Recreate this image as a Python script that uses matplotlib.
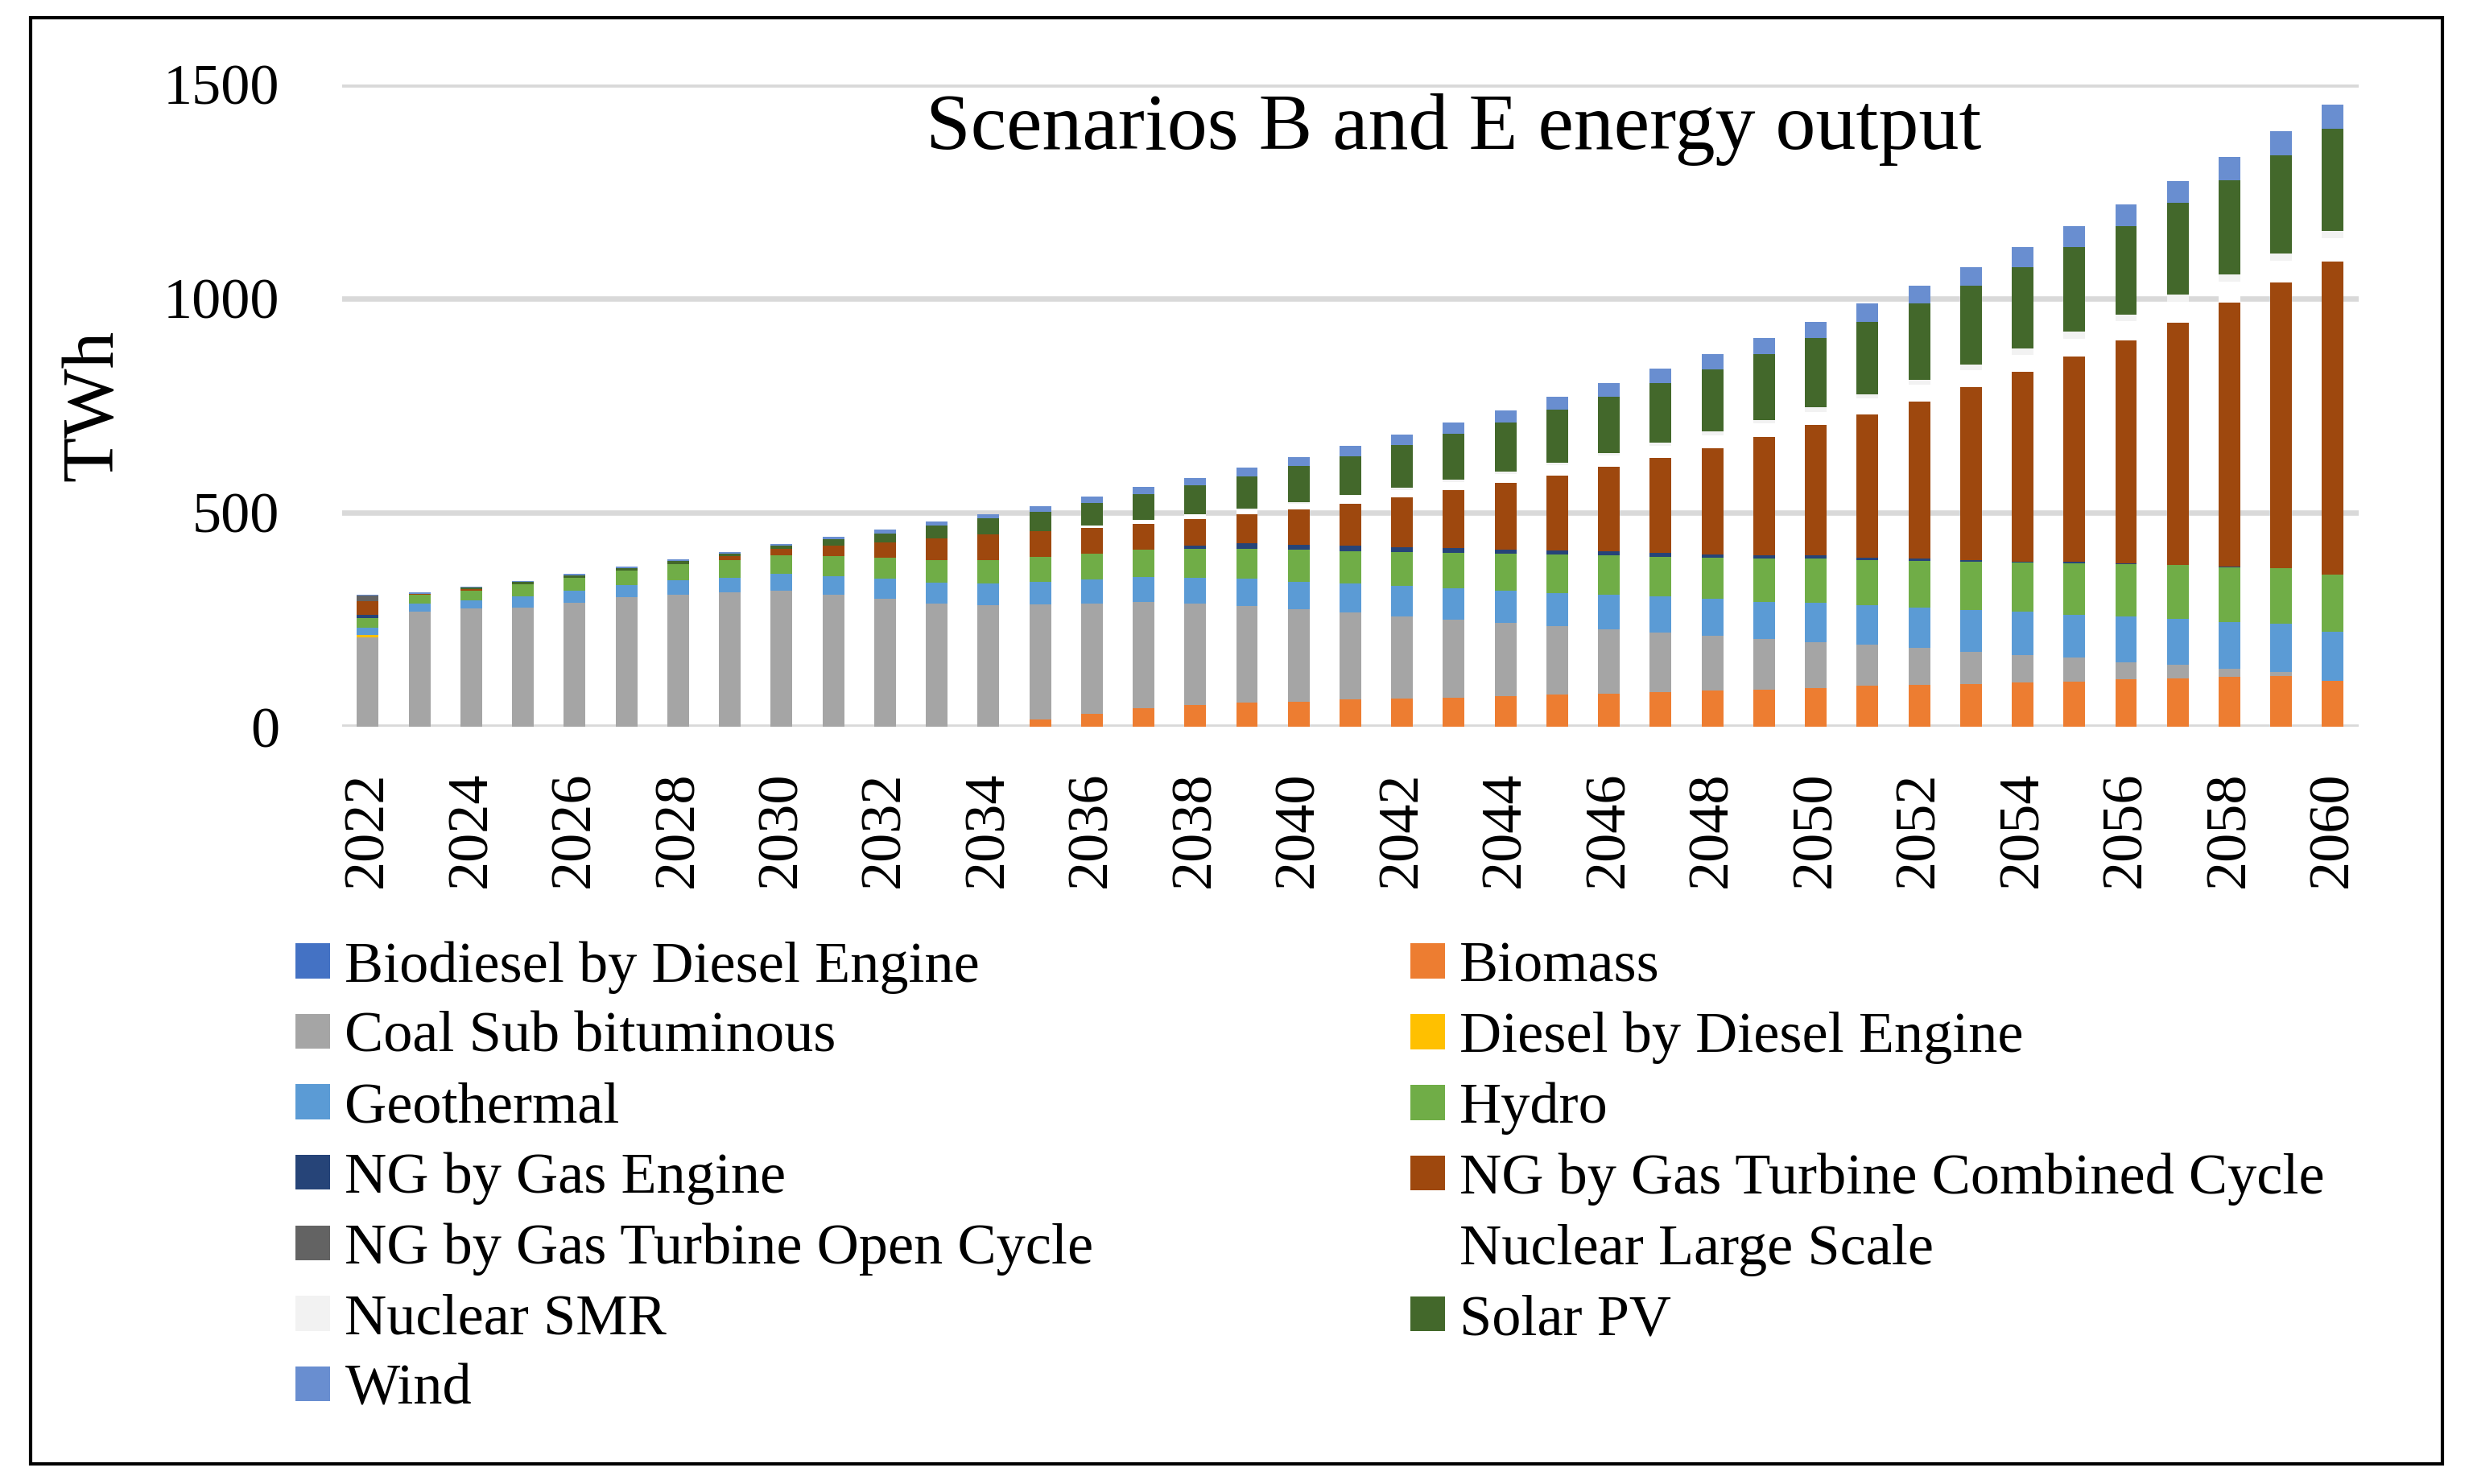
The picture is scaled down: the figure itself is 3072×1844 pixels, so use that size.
import numpy as np
import matplotlib.pyplot as plt
from matplotlib.patches import Rectangle

years = list(range(2022, 2061))

biodiesel = [0] * 39
biomass = [0, 0, 0, 0, 0, 0, 0, 0, 0, 0, 0, 0, 0, 16, 30, 43, 50, 56, 59, 63,
           65, 68, 72, 76, 78, 81, 84, 86, 91, 95, 97, 100, 104, 106, 110, 112, 116, 118, 107]
coal = [208, 268, 276, 278, 289, 302, 309, 313, 317, 308, 298, 287, 283, 269, 258, 248, 238, 226, 216, 204,
        193, 182, 170, 159, 149, 139, 128, 119, 107, 96, 87, 75, 64, 55, 41, 32, 20, 10, 0]
diesel = [7] + [0] * 38
geothermal = [16, 20, 20, 26, 28, 28, 34, 35, 41, 43, 47, 49, 51, 53, 56, 58, 59, 64, 63, 68,
              71, 74, 76, 77, 81, 84, 86, 86, 91, 92, 95, 97, 100, 101, 107, 107, 109, 112, 114]
hydro = [22, 20, 22, 28, 30, 34, 36, 41, 42, 47, 49, 53, 55, 58, 60, 65, 68, 69, 76, 75,
         79, 82, 86, 90, 92, 92, 97, 102, 104, 107, 109, 114, 116, 120, 122, 126, 128, 131, 135]
ng_engine = [8, 0, 0, 0, 0, 0, 0, 0, 0, 0, 0, 0, 0, 0, 0, 0, 8, 14, 10, 13,
             11, 11, 10, 10, 9, 10, 7, 7, 7, 5, 5, 4, 2, 3, 1, 1, 1, 0, 0]
ng_cc = [33, 2, 3, 0, 0, 0, 0, 9, 15, 25, 36, 51, 60, 60, 60, 59, 62, 67, 83, 98,
         117, 135, 156, 174, 198, 222, 248, 277, 304, 335, 367, 404, 442, 479, 522, 566, 616, 666, 730]
ng_oc = [12] + [0] * 38
nuclear_large = [0, 0, 0, 0, 0, 0, 0, 0, 0, 0, 0, 0, 0, 1, 6, 10, 11, 9, 14, 21,
                 17, 20, 21, 24, 26, 28, 31, 31, 31, 36, 38, 39, 41, 42, 45, 48, 49, 51, 55]
nuclear_smr = [0, 0, 0, 0, 0, 0, 0, 0, 0, 0, 0, 0, 0, 0, 0, 0, 0, 4, 3, 0,
               5, 5, 5, 6, 6, 7, 9, 9, 12, 11, 12, 13, 14, 16, 15, 17, 17, 17, 16]
solar = [0, 1, 4, 6, 6, 6, 8, 6, 8, 15, 22, 30, 37, 45, 52, 60, 68, 76, 85, 90,
         100, 107, 115, 124, 132, 140, 144, 154, 161, 169, 178, 184, 191, 199, 207, 214, 221, 230, 239]
wind = [2, 3, 2, 3, 4, 4, 4, 3, 4, 6, 8, 9, 10, 13, 15, 17, 17, 20, 20, 24,
        24, 27, 28, 31, 32, 34, 37, 37, 38, 42, 42, 44, 47, 49, 50, 51, 53, 55, 56]

names = ['Biodiesel by Diesel Engine', 'Biomass', 'Coal Sub bituminous', 'Diesel by Diesel Engine',
         'Geothermal', 'Hydro', 'NG by Gas Engine', 'NG by Gas Turbine Combined Cycle',
         'NG by Gas Turbine Open Cycle', 'Nuclear Large Scale', 'Nuclear SMR', 'Solar PV', 'Wind']
series = [biodiesel, biomass, coal, diesel, geothermal, hydro, ng_engine, ng_cc, ng_oc,
          nuclear_large, nuclear_smr, solar, wind]
colors = ['#4472C4', '#ED7D31', '#A5A5A5', '#FFC000', '#5B9BD5', '#70AD47', '#264478',
          '#9E480E', '#636363', '#FFFFFF', '#F2F2F2', '#43682B', '#698ED0']

plt.rcParams['font.family'] = ['Liberation Serif', 'DejaVu Serif']

fig = plt.figure(figsize=(15.36, 9.22), dpi=200)
ax = fig.add_axes([0.1383, 0.5103, 0.8155, 0.4328])

x = np.arange(len(years))
bottom = np.zeros(len(years))
handles = []
for name, vals, c in zip(names, series, colors):
    v = np.array(vals, dtype=float)
    b = ax.bar(x, v, 0.42, bottom=bottom, color=c, label=name, zorder=3)
    handles.append(b)
    bottom += v

ax.set_xlim(-0.5, len(years) - 0.5)
ax.set_ylim(0, 1500)
ax.set_yticks([0, 500, 1000, 1500])
ax.yaxis.grid(True, color='#D9D9D9', linewidth=2.4, zorder=0)
ax.set_axisbelow(True)
for s in ax.spines.values():
    s.set_visible(False)
ax.set_xticks(x[::2])
ax.set_xticklabels([str(y) for y in years[::2]], rotation=90)
ax.tick_params(axis='both', length=0, labelsize=26)
ax.tick_params(axis='y', pad=28)
ax.tick_params(axis='x', pad=20)
ax.set_ylabel('TWh', fontsize=33, labelpad=16)

ax.text(0.551, 0.93, 'Scenarios B and E energy output', transform=ax.transAxes,
        fontsize=36, ha='center', va='center')

order = [0, 2, 4, 6, 8, 10, 12, 1, 3, 5, 7, 9, 11]
fig.legend([handles[i] for i in order], [names[i] for i in order], ncol=2,
           loc='upper left', bbox_to_anchor=(0.1195, 0.366), frameon=False,
           fontsize=26, handlelength=0.6, handleheight=0.55, handletextpad=0.25,
           columnspacing=5.44, labelspacing=0.31, borderaxespad=0, borderpad=0)

fig.patches.append(Rectangle((38 / 3072, 1 - 1819 / 1844), (3034 - 38) / 3072, (1819 - 22) / 1844,
                             transform=fig.transFigure, fill=False, edgecolor='black', linewidth=1.5))

fig.savefig('out.png', dpi=200)
